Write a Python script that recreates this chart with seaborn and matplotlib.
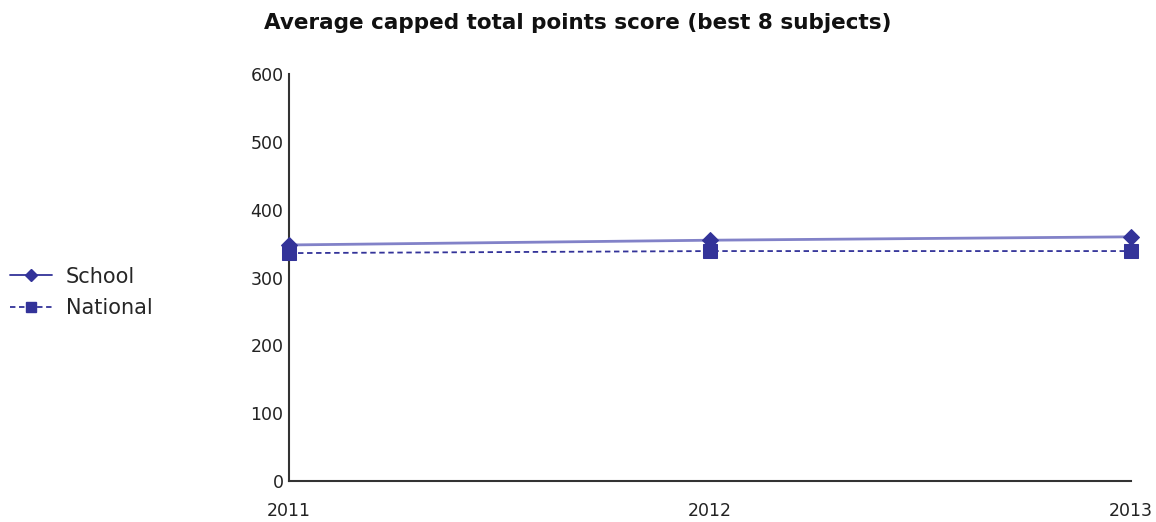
import pandas as pd
import seaborn as sns
import matplotlib.pyplot as plt
from matplotlib.lines import Line2D

# Data
years = [2011, 2012, 2013]
school = [348, 355, 360]
national = [336, 339, 339]

df = pd.DataFrame({"year": years, "School": school, "National": national})

sns.set_style("white")
plt.rcParams["font.family"] = ["DejaVu Sans"]

fig = plt.figure(figsize=(11.56, 5.22), dpi=100)
ax = fig.add_axes([0.25, 0.0785, 0.7284, 0.7797])

line_col = "#8282c8"
dark = "#333399"

sns.lineplot(data=df, x="year", y="School", ax=ax, color=line_col, linewidth=2,
             marker="D", markersize=8, markerfacecolor=dark, markeredgecolor=dark,
             clip_on=False, zorder=4)
sns.lineplot(data=df, x="year", y="National", ax=ax, color=dark, linewidth=1.3,
             linestyle=(0, (3, 2)), marker="s", markersize=9.5,
             markerfacecolor=dark, markeredgecolor=dark, clip_on=False, zorder=3)

ax.set_xlim(2011, 2013)
ax.set_ylim(0, 600)
ax.set_xticks(years)
ax.set_xticklabels([str(y) for y in years])
ax.set_yticks(range(0, 601, 100))
ax.set_xlabel("")
ax.set_ylabel("")
ax.tick_params(axis="both", length=0, labelsize=12.5, colors="#222222")
ax.tick_params(axis="y", pad=4)
ax.tick_params(axis="x", pad=15)
sns.despine(ax=ax)
for s in ["left", "bottom"]:
    ax.spines[s].set_color("#333333")
    ax.spines[s].set_linewidth(1.5)

fig.suptitle("Average capped total points score (best 8 subjects)",
             fontsize=15.5, fontweight="bold", x=0.5, y=0.975, color="#111111")

handles = [
    Line2D([], [], color=dark, linewidth=1.3, marker="D", markersize=6,
           markerfacecolor=dark),
    Line2D([], [], color=dark, linewidth=1.3, linestyle=(0, (3, 2)), marker="s",
           markersize=7, markerfacecolor=dark),
]
fig.legend(handles, ["School", "National"], loc="center left",
           bbox_to_anchor=(0.0, 0.44), frameon=False, fontsize=15,
           handlelength=2.0, handletextpad=0.65, labelspacing=0.55,
           borderpad=0.0, borderaxespad=0.5, numpoints=1)

fig.savefig("out.png", dpi=100)
